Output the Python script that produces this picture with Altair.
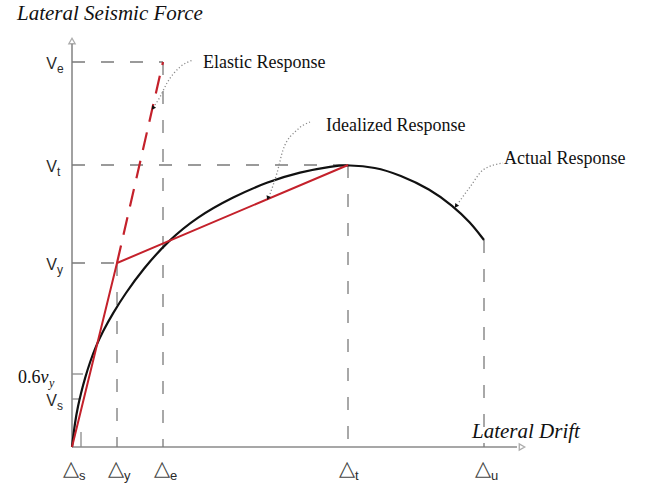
import altair as alt
import pandas as pd

# ---- data (drift / force units of the sketch) ----
drift_names = ["s", "y", "e", "t", "u"]
drift_vals = [9, 45, 91, 276, 412]
force_names = ["e", "t", "y", "s"]
force_vals = [385, 282, 184, 48]
vy06 = 73

actual_drift = [0, 3, 6, 9, 13, 18, 24, 31, 41, 53, 71, 96, 125, 161, 195, 228, 261, 276,
                303, 328, 358, 381, 398, 412]
actual_force = [0, 25, 41, 54, 69, 85, 101, 116, 134, 153, 178, 206, 230, 250, 265, 275, 281, 282,
                280, 272, 258, 241, 225, 207]

ideal_drift = [0, 45, 276]
ideal_force = [0, 184, 282]
elastic_drift = [45, 91]
elastic_force = [184, 385]

# guide lines
vguide_x = [45, 91, 276, 412]
vguide_top = [184, 385, 282, 207]
hguide_y = [385, 282, 184]
hguide_end = [91, 276, 45]

# leader lines of annotations
lead_elastic_x = [121, 108, 95, 88, 83]
lead_elastic_y = [387, 380, 364, 350, 342]
lead_ideal_x = [238, 225, 211, 205, 198]
lead_ideal_y = [325, 317, 297, 274, 253]
lead_actual_x = [431, 411, 398, 387]
lead_actual_y = [284, 277, 260, 245]
arrow_x = [81, 196, 384]
arrow_y = [339, 249, 241]
arrow_angle = [215, 200, 216]

XS = alt.Scale(domain=[-72, 573], nice=False, zero=False)
YS = alt.Scale(domain=[-39, 447], nice=False, zero=False)

GRAY = "#8a8a8a"
DASH = "#7a7a7a"
RED = "#c4212b"
BLACK = "#111111"
SANS = "Liberation Sans"
SERIF = "Liberation Serif"


def X(f="x"):
    return alt.X(f"{f}:Q", scale=XS, axis=None)


def Y(f="y"):
    return alt.Y(f"{f}:Q", scale=YS, axis=None)


def line(xs, ys, **kw):
    df = pd.DataFrame({"x": xs, "y": ys})
    return alt.Chart(df).mark_line(**kw).encode(x=X(), y=Y())


layers = []

# axes
layers.append(line([0, 0], [0, 403], color=GRAY, strokeWidth=1.6))
layers.append(line([0, 445], [0, 0], color=GRAY, strokeWidth=1.6))
ax_df = pd.DataFrame({"x": [0, 450], "y": [406, 0], "a": [0, 90]})
layers.append(
    alt.Chart(ax_df).mark_point(shape="triangle-up", filled=False, color=GRAY, size=40, strokeWidth=1.3)
    .encode(x=X(), y=Y(), angle=alt.Angle("a:Q", scale=None))
)

# dashed guides
vg = pd.DataFrame({"x": vguide_x, "y": vguide_top, "y2": [0] * len(vguide_x)})
layers.append(
    alt.Chart(vg).mark_rule(color=DASH, strokeWidth=1.3, strokeDash=[13, 16])
    .encode(x=X(), y=Y(), y2="y2:Q")
)
hg = pd.DataFrame({"x": [0] * len(hguide_y), "x2": hguide_end, "y": hguide_y})
layers.append(
    alt.Chart(hg).mark_rule(color=DASH, strokeWidth=1.3, strokeDash=[13, 16])
    .encode(x=X(), x2="x2:Q", y=Y())
)

# small solid ticks
layers.append(line([0, 11], [vy06, vy06], color=GRAY, strokeWidth=1.3))
layers.append(line([0, 7], [force_vals[3], force_vals[3]], color=GRAY, strokeWidth=1.3))
layers.append(line([drift_vals[0], drift_vals[0]], [0, 15], color=GRAY, strokeWidth=1.3))

# responses
layers.append(line(actual_drift, actual_force, color=BLACK, strokeWidth=2.2, interpolate="basis"))
layers.append(line(ideal_drift, ideal_force, color=RED, strokeWidth=2))
layers.append(line(elastic_drift, elastic_force, color=RED, strokeWidth=2.2, strokeDash=[18, 11]))

# leaders
for lx, ly in [(lead_elastic_x, lead_elastic_y), (lead_ideal_x, lead_ideal_y), (lead_actual_x, lead_actual_y)]:
    layers.append(line(lx, ly, color="#8c8c8c", strokeWidth=1.3, strokeDash=[1.2, 2.2], interpolate="monotone"))
arr = pd.DataFrame({"x": arrow_x, "y": arrow_y, "a": arrow_angle})
layers.append(
    alt.Chart(arr).mark_point(shape="triangle-up", filled=True, color=BLACK, size=22, opacity=1)
    .encode(x=X(), y=Y(), angle=alt.Angle("a:Q", scale=None))
)

# y axis labels
fl = pd.DataFrame({"x": [0] * len(force_vals), "y": force_vals, "m": ["V"] * len(force_vals), "s": force_names})
layers.append(
    alt.Chart(fl).mark_text(font=SANS, fontSize=16, align="right", baseline="middle", dx=-15, dy=2, color="#2a2a2a")
    .encode(x=X(), y=Y(), text="m:N")
)
layers.append(
    alt.Chart(fl).mark_text(font=SANS, fontSize=12, align="left", baseline="middle", dx=-15, dy=7, color="#2a2a2a")
    .encode(x=X(), y=Y(), text="s:N")
)

# x axis labels
dl = pd.DataFrame({"x": drift_vals, "y": [-22] * len(drift_vals), "m": ["\u25B3"] * len(drift_vals), "s": drift_names})
first = dl.iloc[:1]
rest = dl.iloc[1:]
for df_, shift in [(first, -10), (rest, -1)]:
    layers.append(
        alt.Chart(df_).mark_text(font="DejaVu Sans", fontSize=21, align="center", baseline="middle", dx=shift, color="#444")
        .encode(x=X(), y=Y(), text="m:N")
    )
    layers.append(
        alt.Chart(df_).mark_text(font=SANS, fontSize=13, align="left", baseline="middle", dx=shift + 8, dy=7, color="#2a2a2a")
        .encode(x=X(), y=Y(), text="s:N")
    )

# 0.6 v_y label
layers.append(
    alt.Chart(pd.DataFrame({"x": [-54], "y": [64], "t": ["0.6"]}))
    .mark_text(font=SERIF, fontSize=18, align="left", baseline="alphabetic", color="#111")
    .encode(x=X(), y=Y(), text="t:N")
)
layers.append(
    alt.Chart(pd.DataFrame({"x": [-31.5], "y": [64], "t": ["v"]}))
    .mark_text(font=SERIF, fontSize=18, fontStyle="italic", align="left", baseline="alphabetic", color="#111")
    .encode(x=X(), y=Y(), text="t:N")
)
layers.append(
    alt.Chart(pd.DataFrame({"x": [-23], "y": [60], "t": ["y"]}))
    .mark_text(font=SERIF, fontSize=12, fontStyle="italic", align="left", baseline="alphabetic", color="#111")
    .encode(x=X(), y=Y(), text="t:N")
)

# annotations
ann = pd.DataFrame({
    "x": [131, 254, 432],
    "y": [379, 316, 283],
    "t": ["Elastic Response", "Idealized Response", "Actual Response"],
})
layers.append(
    alt.Chart(ann).mark_text(font=SERIF, fontSize=18, align="left", baseline="alphabetic", color="#111")
    .encode(x=X(), y=Y(), text="t:N")
)
titles = pd.DataFrame({"x": [-55, 400], "y": [427, 9], "t": ["Lateral Seismic Force", "Lateral Drift"]})
layers.append(
    alt.Chart(titles).mark_text(font=SERIF, fontSize=21, fontStyle="italic", align="left", baseline="alphabetic", color="#111")
    .encode(x=X(), y=Y(), text="t:N")
)

chart = alt.layer(*layers).properties(
    width=645, height=486, autosize=alt.AutoSizeParams(type="none"), padding=0
).configure_view(stroke=None)

chart.save("out.html", embed_options={"renderer": "svg", "actions": False})
